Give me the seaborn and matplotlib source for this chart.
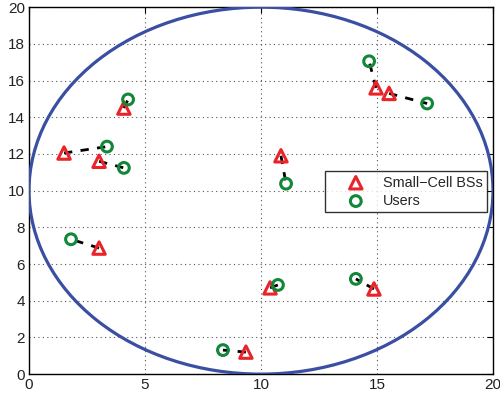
import matplotlib
matplotlib.use("Agg")
import matplotlib.pyplot as plt
import seaborn as sns
import pandas as pd
from matplotlib.patches import Ellipse

bs_x = [1.51, 3.02, 4.09, 3.02, 9.35, 10.39, 10.86, 14.87, 14.96, 15.52]
bs_y = [12.05, 11.6, 14.5, 6.87, 1.2, 4.7, 11.9, 4.64, 15.6, 15.3]
user_x = [3.36, 4.09, 4.27, 1.81, 8.36, 10.73, 11.08, 14.09, 14.66, 17.16]
user_y = [12.4, 11.24, 14.97, 7.35, 1.31, 4.86, 10.38, 5.19, 17.05, 14.75]
xticks = [0, 5, 10, 15, 20]
yticks = [0, 2, 4, 6, 8, 10, 12, 14, 16, 18, 20]

sns.set_style("white")
plt.rcParams['font.family'] = ['Liberation Sans', 'DejaVu Sans']

fig = plt.figure(figsize=(5.0, 3.98), dpi=100)
ax = fig.add_axes([0.058, 0.060, 0.928, 0.922])

n = len(bs_x)
links = pd.DataFrame({
    "x": bs_x + user_x,
    "y": bs_y + user_y,
    "pair": list(range(n)) * 2,
    "order": [0] * n + [1] * n,
}).sort_values(["pair", "order"])

sns.lineplot(data=links, x="x", y="y", units="pair", estimator=None, sort=False,
             color="black", linewidth=2.0, linestyle=(0, (3, 3)), ax=ax, legend=False)

ax.add_patch(Ellipse((10, 10), 20, 20, fill=False, edgecolor="#3a4fa2", linewidth=2.3, zorder=3))

bs = pd.DataFrame({"x": bs_x, "y": bs_y})
us = pd.DataFrame({"x": user_x, "y": user_y})
sns.scatterplot(data=bs, x="x", y="y", marker="^", s=80, facecolors="none",
                edgecolor="#e8232a", linewidth=2.2, ax=ax, zorder=4, label="Small\u2212Cell BSs")
sns.scatterplot(data=us, x="x", y="y", marker="o", s=60, facecolors="none",
                edgecolor="#12873a", linewidth=2.2, ax=ax, zorder=4, label="Users")

ax.set_xlim(0, 20)
ax.set_ylim(0, 20)
ax.set_xticks(xticks)
ax.set_yticks(yticks)
ax.set_xlabel("")
ax.set_ylabel("")
ax.grid(True, color="#555555", linestyle=(0, (1, 3)), linewidth=0.8)
ax.tick_params(direction="in", length=4, top=True, right=True, labelsize=11, color="black",
               labelcolor="#222222", pad=3)
for sp in ax.spines.values():
    sp.set_color("black")
    sp.set_linewidth(1.0)

leg = ax.legend(loc="upper right", bbox_to_anchor=(0.987, 0.553), borderaxespad=0,
                frameon=True, fancybox=False,
                edgecolor="black", fontsize=10.4, handletextpad=0.05, borderpad=0.3,
                labelspacing=0.3, handlelength=3.65)
leg.get_frame().set_linewidth(1.0)

fig.savefig("out.png", dpi=100)
